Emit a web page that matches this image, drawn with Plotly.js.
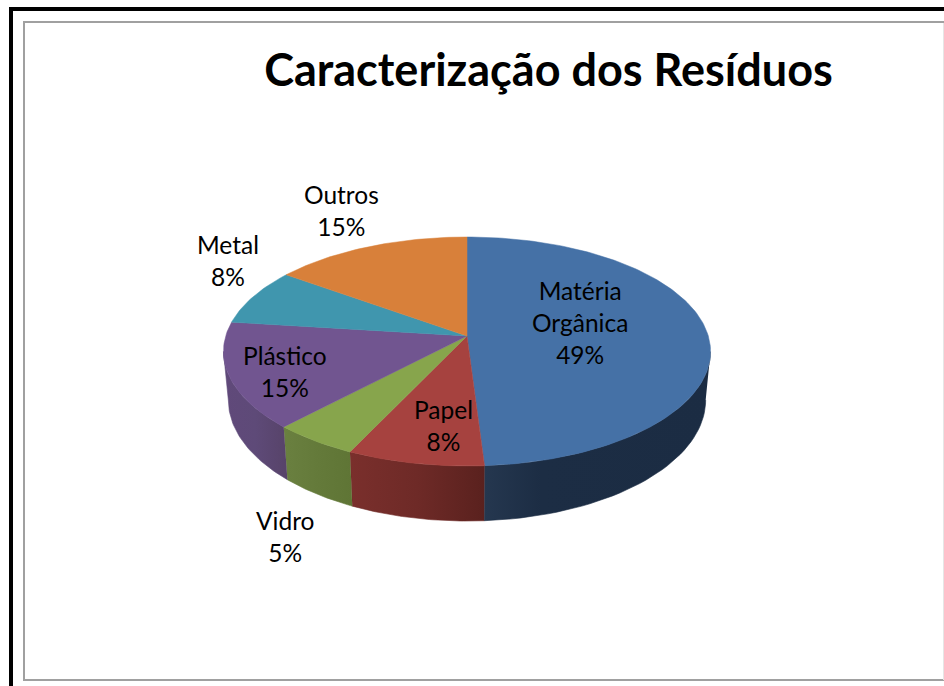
<!DOCTYPE html>
<html><head><meta charset="utf-8">
<script src="https://cdn.plot.ly/plotly-3.0.1.min.js"></script>
<style>html,body{margin:0;padding:0;background:#fff}#c{width:944px;height:686px}</style>
</head><body><div id="c"></div>
<script>
var categories = ['Matéria Orgânica','Papel','Vidro','Plástico','Metal','Outros'];
var values = [49,8,5,15,8,15];
var topColors = ['#4571a6','#a6423f','#87a54c','#715590','#4096ae','#d8803a'];
var wallLeft = ['#25374f','#7a2f2c','#6a8040','#60497a','#3a8a9f','#c4732f'];
var wallMid = ['#1c2d44','#6e2a27','#647a3a','#5e4a78','#3a8a9f','#c4732f'];
var wallRight = ['#1b2c43','#5a211e','#5f7535','#574369','#3a8a9f','#c4732f'];
var labelX = [580,443,285,285,228,341];
var labelY = [322,425,536,371,260,210];

// view of the tilted disc
var cx=467, cy=336, R=241.3, A=112.4, k=0.1353, D=47.6, shrink=0.98;
function rim(p,lower){
  var t=p*2*Math.PI, u=Math.sin(t), d=-Math.cos(t), s=1/(1-k*d);
  return lower ? [cx+shrink*R*u*s, cy+A*d*s+D*s] : [cx+R*u*s, cy+A*d*s];
}
var silhouette=[Math.acos(-k)/(2*Math.PI), 1-Math.acos(-k)/(2*Math.PI)];
var traces=[], cum=0, tops=[];
values.forEach(function(v,i){
  var a=cum/100, b=(cum+v)/100; cum+=v;
  // side wall
  var a2=Math.max(a,silhouette[0]), b2=Math.min(b,silhouette[1]);
  if(b2>a2){
    var wx=[],wy=[],n=40,j,q;
    for(j=0;j<=n;j++){q=rim(a2+(b2-a2)*j/n,false);wx.push(q[0]);wy.push(q[1]);}
    for(j=n;j>=0;j--){q=rim(a2+(b2-a2)*j/n,true);wx.push(q[0]);wy.push(q[1]);}
    traces.push({type:'scatter',mode:'lines',x:wx,y:wy,fill:'toself',hoverinfo:'skip',
      line:{width:0.6,color:wallMid[i]},showlegend:false,
      fillgradient:{type:'horizontal',colorscale:[[0,wallLeft[i]],[i===0?0.25:0.5,wallMid[i]],[1,wallRight[i]]]}});
  }
  var x=[cx],y=[cy],m=Math.max(12,Math.round(v*3));
  for(var j2=0;j2<=m;j2++){var r=rim(a+(b-a)*j2/m,false);x.push(r[0]);y.push(r[1]);}
  x.push(cx);y.push(cy);
  tops.push({type:'scatter',mode:'lines',x:x,y:y,fill:'toself',fillcolor:topColors[i],hoverinfo:'skip',
    line:{width:0.5,color:topColors[i]},showlegend:false});
});
traces=traces.concat(tops);
var annotations=categories.map(function(c,i){
  return {x:labelX[i],y:labelY[i],xref:'x',yref:'y',showarrow:false,align:'center',
    text:c.replace(' ','<br>')+'<br>'+values[i]+'%',
    font:{family:'Lato, sans-serif',size:24.5,color:'#000'}};
});
function hline(y,x0,x1,c,w){return {type:'line',xref:'paper',yref:'paper',x0:x0/944,x1:x1/944,y0:1-y/686,y1:1-y/686,line:{color:c,width:w}};}
function vline(x,y0,y1,c,w){return {type:'line',xref:'paper',yref:'paper',x0:x/944,x1:x/944,y0:1-y0/686,y1:1-y1/686,line:{color:c,width:w}};}
var layout={
  width:944,height:686,margin:{l:0,r:0,t:0,b:0},paper_bgcolor:'#fff',plot_bgcolor:'#fff',showlegend:false,
  xaxis:{range:[0,944],visible:false,fixedrange:true},
  yaxis:{range:[686,0],visible:false,fixedrange:true},
  title:{text:'<b>Caracterização dos Resíduos</b>',x:548.5/944,xanchor:'center',y:1-70/686,yanchor:'middle',
    font:{family:'Lato, sans-serif',size:45,color:'#000'}},
  annotations:annotations,
  shapes:[
    vline(11,7,686,'#000',4),
    hline(9,9,944,'#000',4),
    hline(22,23,944,'#a0a0a0',2),
    vline(24,21,681,'#a0a0a0',2),
    hline(680,23,944,'#a0a0a0',2),
    vline(943.5,23,680,'#e6e6e6',1)
  ]
};
Plotly.newPlot('c',traces,layout,{displayModeBar:false,staticPlot:true});
</script></body></html>
